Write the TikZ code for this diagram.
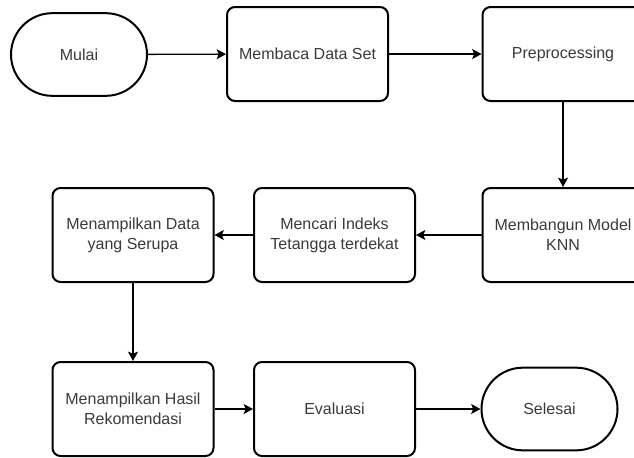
\documentclass[tikz,border=0pt]{standalone}
\usepackage{fontspec}
\setmainfont{Liberation Sans}
\usepackage{tikz}
\usetikzlibrary{arrows.meta}
\definecolor{teksabu}{HTML}{3A3A3A}
\tikzstyle{proses}=[draw=black, line width=1.5pt, rounded corners=6pt, minimum width=120.75pt, minimum height=70.5pt, align=center, text=teksabu, font=\fontsize{12}{15}\selectfont]
\tikzstyle{terminal}=[draw=black, line width=1.5pt, rounded corners=31pt, minimum width=102pt, minimum height=62pt, align=center, text=teksabu, font=\fontsize{12}{15}\selectfont]
\tikzstyle{alur}=[line width=1pt, -{Stealth[length=7pt,width=7.5pt,inset=1.5pt]}]

\begin{document}
\begin{tikzpicture}[x=0.75pt, y=-0.75pt]
	\useasboundingbox (0,0) rectangle (634,457);
	\clip (0,0) rectangle (634,457);
	% baris atas
	\node[terminal] (mulai) at (79,54.5) {Mulai};
	\node[proses] (baca) at (307.5,54) {Membaca Data Set};
	\node[proses] (prepro) at (563,54) {Preprocessing};
	% baris tengah
	\node[proses] (model) at (563,235) {Membangun Model\\KNN};
	\node[proses] (indeks) at (334.5,235) {Mencari Indeks\\Tetangga terdekat};
	\node[proses] (tampil) at (133,235) {Menampilkan Data\\yang Serupa};
	% baris bawah
	\node[proses] (hasil) at (133,409) {Menampilkan Hasil\\Rekomendasi};
	\node[proses] (evaluasi) at (334.5,409) {Evaluasi};
	\node[terminal] (selesai) at (549.5,409) {Selesai};
	\draw[alur] (mulai) -- (baca);
	\draw[alur] (baca) -- (prepro);
	\draw[alur] (prepro) -- (model);
	\draw[alur] (model) -- (indeks);
	\draw[alur] (indeks) -- (tampil);
	\draw[alur] (tampil) -- (hasil);
	\draw[alur] (hasil) -- (evaluasi);
	\draw[alur] (evaluasi) -- (selesai);
\end{tikzpicture}
\end{document}
